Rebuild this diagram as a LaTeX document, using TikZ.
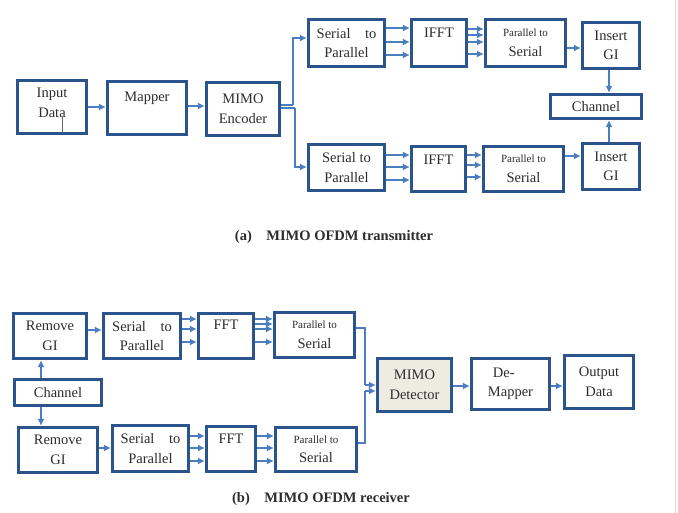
\documentclass[tikz,border=0pt]{standalone}
\usepackage{fontspec}
\setmainfont{Liberation Serif}
\usetikzlibrary{arrows.meta}
\definecolor{boxc}{RGB}{44,84,140}
\definecolor{arrc}{RGB}{74,126,192}
\definecolor{detc}{RGB}{238,236,225}
\definecolor{txtc}{RGB}{45,45,45}
\newcommand{\smallpt}{\fontsize{11}{12}\selectfont}
\begin{document}
\begin{tikzpicture}[x=1pt,y=-1pt,
 blk/.style={draw=boxc, line width=3.2pt, fill=white, inner sep=0pt, align=center, text=txtc,
   font=\fontsize{14.5}{19.5}\selectfont},
 toplbl/.style={anchor=north, inner sep=0pt, align=center, text=txtc, font=\fontsize{14.5}{19.5}\selectfont},
 arr/.style={draw=arrc, line width=1.4pt, -{Latex[length=7pt,width=7pt]}},
 lnk/.style={draw=arrc, line width=1.4pt},
 captxt/.style={text=txtc, font=\bfseries\fontsize{14.5}{16}\selectfont}
]
\useasboundingbox (0,0) rectangle (678,513);
\draw[black!15, line width=1pt] (675,0) -- (675,513);

% ---------- transmitter ----------
\node[blk, minimum width=69, minimum height=53, label={[toplbl,yshift=-9]north:Input\\Data}] (in) at (52,107) {};
\node[blk, minimum width=79, minimum height=53, label={[toplbl,yshift=-12]north:Mapper}] (map) at (147,108) {};
\node[blk, minimum width=73, minimum height=53] (enc) at (243,109) {MIMO\\Encoder};
\node[blk, minimum width=76, minimum height=47] (sp1) at (346.5,43) {Serial\quad to\\Parallel};
\node[blk, minimum width=55, minimum height=47, label={[toplbl,yshift=-10]north:IFFT}] (if1) at (439,43) {};
\node[blk, minimum width=80, minimum height=47] (ps1) at (525.5,43) {{\smallpt Parallel to}\\Serial};
\node[blk, minimum width=57, minimum height=46] (gi1) at (611,45.5) {Insert\\GI};
\node[blk, minimum width=91, minimum height=24] (ch1) at (596,106.5) {Channel};
\node[blk, minimum width=76, minimum height=46] (sp2) at (346.5,167.5) {Serial to\\Parallel};
\node[blk, minimum width=54, minimum height=45, label={[toplbl,yshift=-10]north:IFFT}] (if2) at (438.5,169) {};
\node[blk, minimum width=80, minimum height=45] (ps2) at (523.5,169) {{\smallpt Parallel to}\\Serial};
\node[blk, minimum width=57, minimum height=46] (gi2) at (611,166.5) {Insert\\GI};

\draw[black!60, line width=0.9pt] (62,117) -- (62,133);

\draw[arr] (in.east |- 0,107) -- (map.west |- 0,107);
\draw[arr] (map.east |- 0,106) -- (enc.west |- 0,106);
\draw[lnk] (enc.east |- 0,105) -- (293,105);
\draw[lnk] (enc.east |- 0,108) -- (295,108);
\draw[arr] (293,105) |- (sp1.west |- 0,38);
\draw[arr] (295,108) |- (sp2.west |- 0,167);
\foreach \yy in {28,42,55} \draw[arr] (sp1.east |- 0,\yy) -- (if1.west |- 0,\yy);
\foreach \yy in {29,35,42,54} \draw[arr] (if1.east |- 0,\yy) -- (ps1.west |- 0,\yy);
\draw[arr] (ps1.east |- 0,48) -- (gi1.west |- 0,48);
\foreach \yy in {155,167,180} \draw[arr] (sp2.east |- 0,\yy) -- (if2.west |- 0,\yy);
\foreach \yy in {155,165,177} \draw[arr] (if2.east |- 0,\yy) -- (ps2.west |- 0,\yy);
\draw[arr] (ps2.east |- 0,156) -- (gi2.west |- 0,156);
\draw[arr] (gi1.south -| 609,0) -- (ch1.north -| 609,0);
\draw[arr] (gi2.north -| 609,0) -- (ch1.south -| 609,0);

\node[captxt] (capa) at (334,237) {(a)\quad MIMO OFDM transmitter};

% ---------- receiver ----------
\node[blk, minimum width=73, minimum height=45] (rg1) at (50,336) {Remove\\GI};
\node[blk, minimum width=77, minimum height=45] (rs1) at (142,336) {Serial\quad to\\Parallel};
\node[blk, minimum width=55, minimum height=45, label={[toplbl,yshift=-8]north:FFT}] (ff1) at (226,336) {};
\node[blk, minimum width=80, minimum height=45] (rp1) at (314.5,335) {{\smallpt Parallel to}\\Serial};
\node[blk, minimum width=87, minimum height=26] (ch2) at (58,392.5) {Channel};
\node[blk, minimum width=79, minimum height=45] (rg2) at (58,450) {Remove\\GI};
\node[blk, minimum width=76, minimum height=46] (rs2) at (150.5,448.5) {Serial\quad to\\Parallel};
\node[blk, minimum width=49, minimum height=45, label={[toplbl,yshift=-9]north:FFT}] (ff2) at (231,449) {};
\node[blk, minimum width=81, minimum height=44] (rp2) at (316,449.5) {{\smallpt Parallel to}\\Serial};
\node[blk, fill=detc, minimum width=74, minimum height=53] (det) at (414.5,385) {MIMO\\Detector};
\node[blk, align=left, minimum width=78, minimum height=51] (dm) at (510.5,384) {\hspace*{5pt}De-\\Mapper};
\node[blk, minimum width=69, minimum height=53] (out) at (599,382) {Output\\Data};

\draw[arr] (ch2.north -| 41,0) -- (rg1.south -| 41,0);
\draw[arr] (ch2.south -| 41,0) -- (rg2.north -| 41,0);
\draw[arr] (rg1.east |- 0,330) -- (rs1.west |- 0,330);
\foreach \yy in {319,329,342} \draw[arr] (rs1.east |- 0,\yy) -- (ff1.west |- 0,\yy);
\foreach \yy in {319,324,329,342} \draw[arr] (ff1.east |- 0,\yy) -- (rp1.west |- 0,\yy);
\draw[arr] (rg2.east |- 0,448) -- (rs2.west |- 0,448);
\foreach \yy in {436,448,461} \draw[arr] (rs2.east |- 0,\yy) -- (ff2.west |- 0,\yy);
\foreach \yy in {436,448,461} \draw[arr] (ff2.east |- 0,\yy) -- (rp2.west |- 0,\yy);
\draw[lnk] (rp1.east |- 0,328) -- (365,328) -- (365,385);
\draw[arr] (365,385) -- (det.west |- 0,385);
\draw[lnk] (rp2.east |- 0,443) -- (365,443) -- (365,391);
\draw[arr] (365,391) -- (det.west |- 0,391);
\draw[arr] (det.east |- 0,386) -- (dm.west |- 0,386);
\draw[arr] (dm.east |- 0,386) -- (out.west |- 0,386);

\node[captxt] (capb) at (321,499) {(b)\quad MIMO OFDM receiver};
\end{tikzpicture}
\end{document}
